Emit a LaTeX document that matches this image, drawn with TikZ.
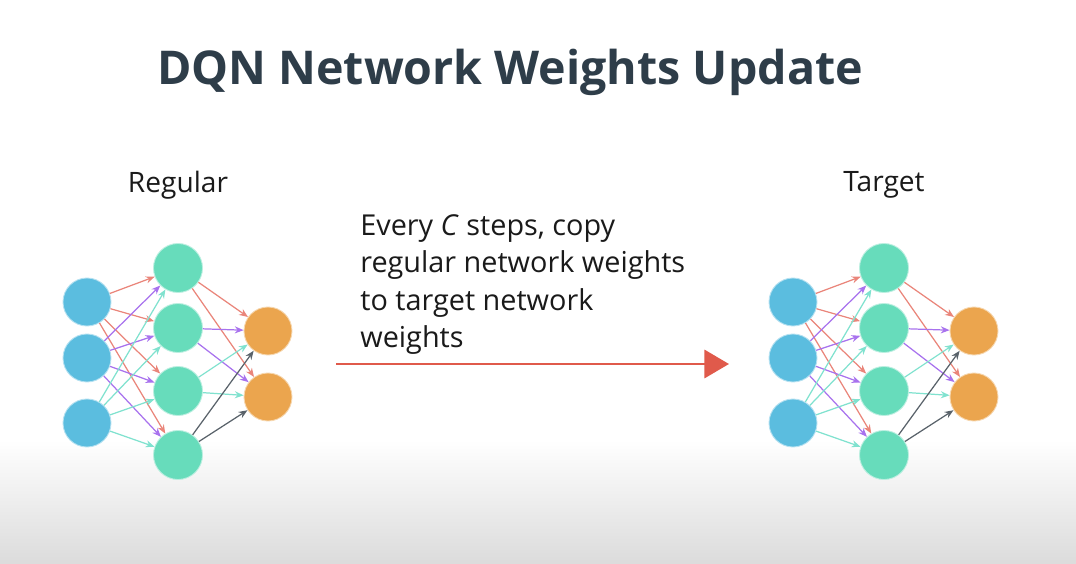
\documentclass[tikz,border=0pt]{standalone}
\usepackage{fontspec}
\setmainfont{Open Sans}
\usetikzlibrary{arrows.meta, positioning}
\definecolor{titletext}{HTML}{2E3D49}
\definecolor{bodytext}{HTML}{1A1A1A}
\definecolor{inpblue}{HTML}{5BBDDF}
\definecolor{hidgreen}{HTML}{67DCBB}
\definecolor{outorange}{HTML}{EBA54E}
\definecolor{edgered}{HTML}{EA857A}
\definecolor{edgepurple}{HTML}{A872EE}
\definecolor{edgeteal}{HTML}{80E2CF}
\definecolor{edgegray}{HTML}{59626A}
\definecolor{copyred}{HTML}{E05A4B}

\begin{document}
\begin{tikzpicture}[x=0.02cm, y=-0.02cm,
            inp/.style={circle, fill=inpblue, draw=inpblue!45!white, line width=0.5pt, minimum size=0.96cm, inner sep=0pt},
            hid/.style={circle, fill=hidgreen, draw=hidgreen!45!white, line width=0.5pt, minimum size=0.98cm, inner sep=0pt},
            outp/.style={circle, fill=outorange, draw=outorange!45!white, line width=0.5pt, minimum size=0.96cm, inner sep=0pt},
            link/.style={line width=0.7pt, -{Stealth[length=5pt, width=4pt]}},
            netlabel/.style={font=\fontsize{16}{19}\selectfont, text=bodytext},
            copyarrow/.style={copyred, line width=1.7pt, -{Triangle[length=14pt, width=16pt]}}]
            % Background
            \fill[white] (0,0) rectangle (1076,564);
            \shade[top color=white, bottom color=black!14] (0,440) rectangle (1076,564);
            \useasboundingbox (0,0) rectangle (1076,564);
            % Title
            \node[font=\fontsize{26.5}{32}\selectfont\bfseries, text=titletext] (title) at (510,72) {DQN Network Weights Update};
            % Networks
            \foreach \net/\dx in {reg/0, tgt/706} {
                \foreach \i/\y in {1/302, 2/358, 3/423}
                    \node[inp] (\net-i\i) at (87+\dx,\y) {};
                \foreach \j/\y in {1/268, 2/328, 3/391, 4/455}
                    \node[hid] (\net-h\j) at (178+\dx,\y) {};
                \foreach \k/\y in {1/331, 2/397}
                    \node[outp] (\net-o\k) at (268+\dx,\y) {};
                \foreach \i/\c in {1/edgered, 2/edgepurple, 3/edgeteal} {
                    \foreach \j in {1,...,4} {
                        \draw[link, \c] (\net-i\i) -- (\net-h\j);
                    }
                }
                \foreach \j/\c in {1/edgered, 2/edgepurple, 3/edgeteal, 4/edgegray} {
                    \foreach \k in {1,2} {
                        \draw[link, \c] (\net-h\j) -- (\net-o\k);
                    }
                }
            }
            \node[netlabel] (reglabel) at (178,185) {Regular};
            \node[netlabel] (tgtlabel) at (884,185) {Target};
            % Copy step
            \node[anchor=north west, align=left, inner sep=0pt, text=bodytext,
                  font=\fontsize{16.4}{21.3}\selectfont] (note) at (360,214)
                {Every \textit{C} steps, copy\\regular network weights\\to target network\\weights};
            \coordinate (copyfrom) at (336,364);
            \coordinate (copyto) at (729,364);
            \draw[copyarrow] (copyfrom) -- (copyto);
        \end{tikzpicture}
\end{document}
